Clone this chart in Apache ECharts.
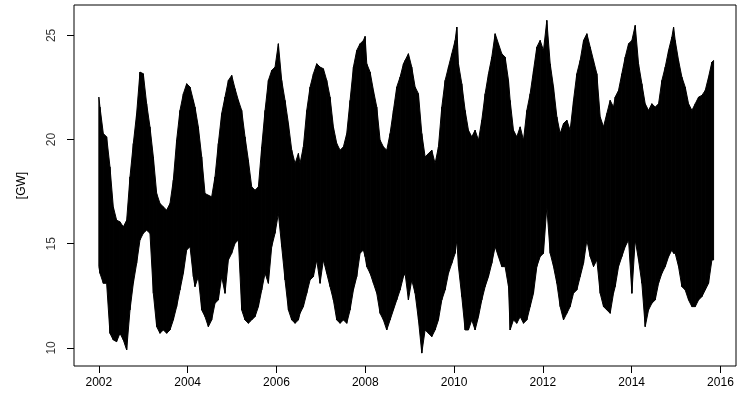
<!DOCTYPE html>
<html lang="en">
<head>
    <meta charset="UTF-8">
    <title>Load [GW]</title>
    <script type="text/javascript" src="https://cdn.jsdelivr.net/npm/echarts@6/dist/echarts.min.js"></script>
    <style type="text/css">
        html, body {
            margin: 0;
            padding: 0;
            background: #fff;
        }
        #chart {
            width: 737px;
            height: 403px;
        }
    </style>
</head>
<body>
<div id="chart"></div>

<script type="text/javascript">
    // envelope of the hourly series: max and min per slice
    var years = [
        2002.000, 2002.025, 2002.100, 2002.175, 2002.250, 2002.325, 2002.400, 2002.475, 2002.551, 2002.626,
        2002.701, 2002.776, 2002.851, 2002.926, 2003.001, 2003.076, 2003.151, 2003.227, 2003.302, 2003.377,
        2003.452, 2003.527, 2003.602, 2003.677, 2003.752, 2003.827, 2003.903, 2003.978, 2004.053, 2004.128,
        2004.165, 2004.240, 2004.316, 2004.391, 2004.466, 2004.541, 2004.616, 2004.691, 2004.766, 2004.841,
        2004.917, 2004.992, 2005.067, 2005.142, 2005.217, 2005.292, 2005.367, 2005.442, 2005.517, 2005.593,
        2005.668, 2005.743, 2005.818, 2005.893, 2005.968, 2006.043, 2006.118, 2006.193, 2006.269, 2006.344,
        2006.419, 2006.494,
        2006.531, 2006.606, 2006.682, 2006.757, 2006.832, 2006.907, 2006.982, 2007.057, 2007.132, 2007.207,
        2007.282, 2007.358, 2007.433, 2007.508, 2007.583, 2007.658, 2007.733, 2007.808, 2007.883, 2007.958,
        2007.996, 2008.034, 2008.109, 2008.184, 2008.259, 2008.334, 2008.409, 2008.484, 2008.559, 2008.634,
        2008.709, 2008.785, 2008.860,
        2008.897, 2008.972, 2009.047, 2009.123, 2009.198, 2009.273, 2009.348, 2009.423, 2009.498, 2009.573,
        2009.648, 2009.724, 2009.799, 2009.874, 2009.949, 2010.024, 2010.062, 2010.099, 2010.174, 2010.249,
        2010.324, 2010.399, 2010.474, 2010.550, 2010.625, 2010.700, 2010.775, 2010.850, 2010.925, 2011.000,
        2011.075, 2011.150, 2011.226,
        2011.263, 2011.338, 2011.413, 2011.489, 2011.564, 2011.639, 2011.714, 2011.789, 2011.864, 2011.939,
        2012.014, 2012.089, 2012.165, 2012.240, 2012.315, 2012.390, 2012.465, 2012.540, 2012.615, 2012.690,
        2012.765, 2012.840, 2012.916, 2012.991, 2013.066, 2013.141, 2013.216, 2013.291, 2013.366, 2013.441,
        2013.516, 2013.591,
        2013.629, 2013.704, 2013.779, 2013.855, 2013.930, 2014.005, 2014.080, 2014.155, 2014.230, 2014.305,
        2014.380, 2014.455, 2014.530, 2014.606, 2014.681, 2014.756, 2014.831, 2014.906, 2014.944, 2014.981,
        2015.056, 2015.131, 2015.206, 2015.281, 2015.357, 2015.432, 2015.507, 2015.582, 2015.657, 2015.732,
        2015.807, 2015.845
    ];

    var upper = [
        22.04, 21.56, 20.29, 20.13, 18.69, 16.77, 16.13, 16.05, 15.81, 16.13,
        18.21, 19.81, 21.25, 23.24, 23.16, 21.72, 20.61, 19.17, 17.41, 16.93,
        16.77, 16.61, 16.93, 18.05, 19.97, 21.40, 22.20, 22.68, 22.52, 21.88,
        21.56, 20.61, 19.17, 17.41, 17.33, 17.25, 18.21, 19.81, 21.25, 22.04,
        22.84, 23.08, 22.44, 21.88, 21.40, 20.13, 19.01, 17.73, 17.57, 17.73,
        19.65, 21.40, 22.84, 23.32, 23.48, 24.60, 22.84, 21.88, 20.77, 19.49,
        18.85, 19.33,
        18.85, 19.65, 21.40, 22.52, 23.16, 23.64, 23.48, 23.40, 22.84, 22.04,
        20.61, 19.81, 19.49, 19.65, 20.29, 21.88, 23.48, 24.28, 24.60, 24.76,
        24.95, 23.64, 23.24, 22.36, 21.56, 19.97, 19.65, 19.49, 20.29, 21.40,
        22.52, 23.00, 23.64,
        23.80, 24.12, 23.48, 22.52, 22.20, 20.29, 19.17, 19.33, 19.49, 18.85,
        19.65, 21.56, 22.84, 23.48, 24.12, 24.76, 25.40, 23.64, 22.68, 21.40,
        20.45, 20.13, 20.45, 19.97, 20.93, 22.20, 23.16, 23.96, 25.08, 24.60,
        24.12, 23.96, 22.84,
        21.88, 20.45, 20.13, 20.61, 19.97, 21.40, 22.20, 23.32, 24.44, 24.76,
        24.28, 25.72, 23.64, 22.52, 21.09, 20.29, 20.77, 20.93, 20.45, 21.88,
        23.16, 23.80, 24.76, 25.08, 24.44, 23.80, 23.16, 21.09, 20.61, 21.25,
        21.88, 21.56,
        22.04, 22.36, 23.16, 23.96, 24.60, 24.76, 25.48, 23.64, 22.68, 21.72,
        21.40, 21.72, 21.56, 21.72, 22.84, 23.48, 24.28, 24.92, 25.40, 24.76,
        23.80, 23.00, 22.52, 21.72, 21.40, 21.72, 22.04, 22.12, 22.36, 23.00,
        23.72, 23.80
    ];

    var lower = [
        13.90, 13.58, 13.10, 13.10, 10.70, 10.38, 10.30, 10.70, 10.38, 9.90,
        11.82, 13.10, 14.06, 15.18, 15.50, 15.65, 15.50, 12.62, 11.02, 10.70,
        10.86, 10.70, 10.86, 11.34, 11.98, 12.78, 13.58, 14.70, 14.86, 13.42,
        12.94, 13.42, 11.82, 11.50, 11.02, 11.34, 12.14, 12.30, 13.42, 12.62,
        14.22, 14.54, 15.02, 15.18, 11.82, 11.34, 11.18, 11.34, 11.50, 11.98,
        12.78, 13.58, 13.10, 14.86, 15.50, 16.45, 14.86, 13.26, 11.82, 11.34,
        11.18, 11.34,
        11.66, 11.98, 12.62, 13.26, 13.42, 14.22, 13.10, 14.22, 13.58, 12.94,
        12.30, 11.34, 11.18, 11.34, 11.18, 11.82, 12.78, 13.42, 14.54, 14.70,
        14.38, 13.90, 13.58, 13.10, 12.62, 11.66, 11.34, 10.86, 11.34, 11.82,
        12.30, 12.78, 13.42,
        13.58, 12.30, 13.26, 12.62, 11.34, 9.75, 10.86, 10.70, 10.54, 10.86,
        11.34, 12.30, 12.78, 13.58, 14.06, 14.54, 15.18, 13.90, 12.46, 10.86,
        10.86, 11.34, 10.86, 11.50, 12.30, 12.94, 13.42, 14.06, 14.86, 14.38,
        13.90, 13.90, 12.94,
        10.86, 11.34, 11.18, 11.50, 11.18, 11.34, 11.98, 12.62, 13.90, 14.38,
        14.54, 16.77, 14.54, 13.90, 13.10, 11.98, 11.34, 11.66, 11.98, 12.62,
        12.78, 13.42, 14.06, 15.18, 14.38, 13.90, 14.22, 12.62, 11.98, 11.82,
        11.66, 12.62,
        12.94, 13.90, 14.38, 14.86, 15.18, 12.62, 15.18, 14.22, 13.10, 11.02,
        11.82, 12.14, 12.30, 13.10, 13.58, 13.90, 14.38, 14.70, 14.54, 14.54,
        13.90, 12.94, 12.78, 12.30, 11.98, 11.98, 12.30, 12.46, 12.78, 13.10,
        14.22, 14.22
    ];

    var xTicks = [2002, 2004, 2006, 2008, 2010, 2012, 2014, 2016];
    var yTicks = [10, 15, 20, 25];
    var xMin = 2001.44, xMax = 2016.35;
    var yMin = 9.13, yMax = 26.46;

    var font = 'Liberation Sans, Arial, sans-serif';

    // one quad per slice: [t, lo, hi, tNext, loNext, hiNext]
    var segData = years.slice(0, -1).map(function (t, i) {
        return [t, lower[i], upper[i], years[i + 1], lower[i + 1], upper[i + 1]];
    });

    function renderSlice(params, api) {
        var p1 = api.coord([api.value(0), api.value(1)]);
        var p2 = api.coord([api.value(0), api.value(2)]);
        var p3 = api.coord([api.value(3), api.value(5)]);
        var p4 = api.coord([api.value(3), api.value(4)]);
        return {
            type: 'polygon',
            shape: { points: [p1, p2, p3, p4] },
            style: { fill: '#000', stroke: '#000', lineWidth: 1 }
        };
    }

    var chart = echarts.init(document.getElementById('chart'), null, { renderer: 'canvas' });

    var option = {
        animation: false,
        backgroundColor: '#fff',
        grid: {
            left: 74,
            right: 1,
            top: 5,
            bottom: 37,
            show: true,
            borderColor: '#000',
            borderWidth: 1,
            backgroundColor: 'transparent'
        },
        xAxis: {
            type: 'value',
            min: xMin,
            max: xMax,
            axisLine: { show: false },
            splitLine: { show: false },
            axisTick: {
                show: true,
                customValues: xTicks,
                length: 7,
                lineStyle: { color: '#000', width: 1 }
            },
            axisLabel: {
                customValues: xTicks,
                margin: 11,
                color: '#000',
                fontSize: 12,
                fontFamily: font,
                formatter: function (v) { return String(v); }
            }
        },
        yAxis: {
            type: 'value',
            min: yMin,
            max: yMax,
            name: '[GW]',
            nameLocation: 'middle',
            nameRotate: 90,
            nameGap: 46,
            nameTextStyle: { color: '#000', fontSize: 12, fontFamily: font },
            axisLine: { show: false },
            splitLine: { show: false },
            axisTick: {
                show: true,
                customValues: yTicks,
                length: 7,
                lineStyle: { color: '#000', width: 1 }
            },
            axisLabel: { show: false }
        },
        series: [
            {
                type: 'custom',
                data: segData,
                renderItem: renderSlice,
                encode: { x: [0, 3], y: [1, 2, 4, 5] },
                silent: true
            },
            {
                // rotated y tick labels, anchored at the left edge of the grid
                type: 'scatter',
                data: yTicks.map(function (v) { return [xMin, v]; }),
                symbolSize: 0,
                silent: true,
                label: {
                    show: true,
                    position: [-22, 0],
                    align: 'center',
                    verticalAlign: 'middle',
                    rotate: 90,
                    color: '#000',
                    fontSize: 12,
                    fontFamily: font,
                    formatter: function (p) { return String(p.value[1]); }
                }
            }
        ]
    };

    chart.setOption(option);
</script>

</body>
</html>
